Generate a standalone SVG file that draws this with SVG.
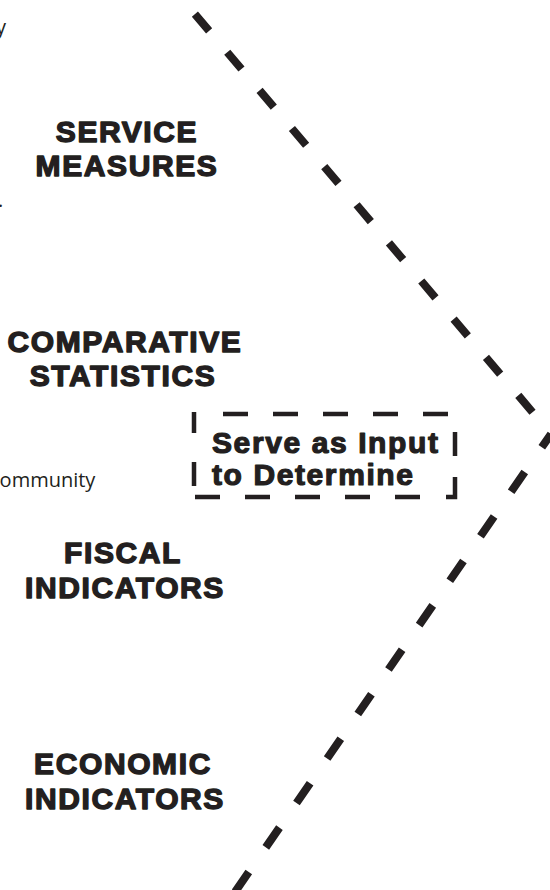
<svg xmlns="http://www.w3.org/2000/svg" width="550" height="890" viewBox="0 0 550 890">
<style>
  .bg { fill: #ffffff; }
  .label { font-family: "Liberation Sans", Arial, sans-serif; font-weight: bold; font-size: 30px; fill: #231f20; stroke: #231f20; stroke-width: 1.4; stroke-linejoin: round; text-anchor: middle; letter-spacing: 1.6px; }
  .boxtext { font-family: "Liberation Sans", Arial, sans-serif; font-weight: bold; font-size: 30px; fill: #231f20; stroke: #231f20; stroke-width: 1.2; stroke-linejoin: round; letter-spacing: 1.6px; }
  .frag { font-family: "Open Sans", "Noto Sans", sans-serif; font-size: 20px; fill: #231f20; }
  .arm { fill: none; stroke: #231f20; stroke-width: 8; stroke-linecap: butt; }
  .boxline { fill: none; stroke: #231f20; stroke-width: 4.5; stroke-linecap: butt; stroke-linejoin: miter; }
</style>
<rect class="bg" x="0" y="0" width="550" height="890"/>

<g id="fragments">
  <text class="frag" x="-4" y="34">y</text>
  <text class="frag" x="-2" y="207">.</text>
  <text class="frag" x="-13" y="487">Community</text>
</g>

<g id="node-service-measures">
  <text class="label" x="127" y="142">SERVICE</text>
  <text class="label" x="127" y="176">MEASURES</text>
</g>

<g id="node-comparative-statistics">
  <text class="label" x="125" y="352">COMPARATIVE</text>
  <text class="label" x="123" y="386">STATISTICS</text>
</g>

<g id="node-fiscal-indicators">
  <text class="label" x="123" y="563">FISCAL</text>
  <text class="label" x="125" y="598">INDICATORS</text>
</g>

<g id="node-economic-indicators">
  <text class="label" x="123" y="774">ECONOMIC</text>
  <text class="label" x="125" y="809">INDICATORS</text>
</g>

<g id="node-serve-as-input">
  <path class="boxline" d="M223,414 H248 M273,414 H298 M323,414 H348 M373,414 H398 M423,414 H448 M194,412 V433 M194,462 V486 M455,432 V456 M455,477 V497 H446 M195,497 H220 M245,497 H270 M295,497 H320 M345,497 H370 M395,497 H420"/>
  <text class="boxtext" x="212" y="453">Serve as Input</text>
  <text class="boxtext" x="212" y="485">to Determine</text>
</g>

<g id="connectors">
  <path class="arm" d="M194.9,14.1 L551,434" stroke-dasharray="22 28"/>
  <path class="arm" d="M551,434 L229.5,900" stroke-dasharray="24 30" stroke-dashoffset="7.8"/>
</g>
</svg>
